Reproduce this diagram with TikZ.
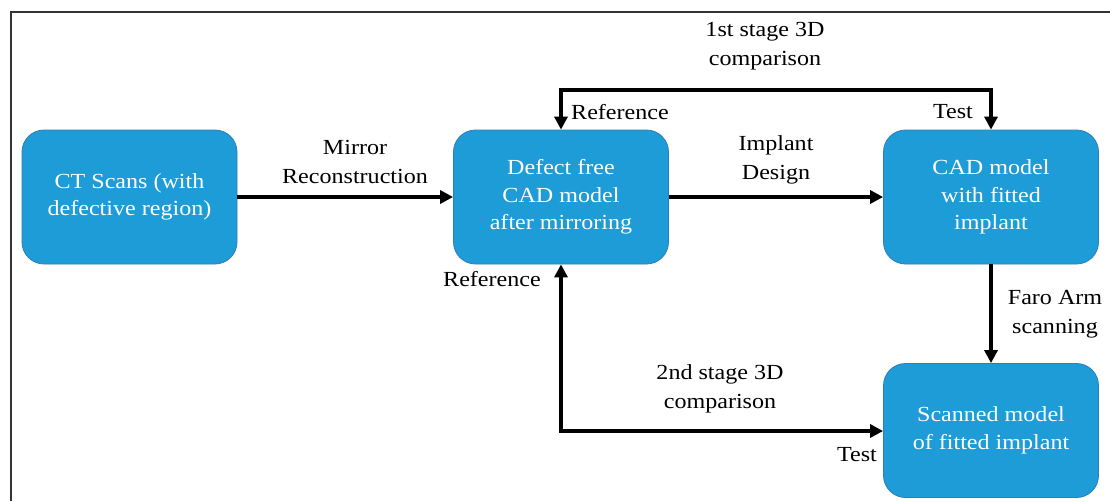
\documentclass[tikz,border=0pt]{standalone}
\usepackage{fontspec}
\setmainfont{Liberation Serif}[FakeStretch=1.12]
\usetikzlibrary{arrows.meta}
\definecolor{boxblue}{HTML}{1E9CD8}
\definecolor{boxedge}{HTML}{2B7FB8}
\tikzset{
  blk/.style={draw=boxedge, line width=0.8pt, fill=boxblue, rounded corners=22pt,
    minimum width=215pt, minimum height=134pt, text=white, align=center,
    font=\fontsize{21.5}{27.5}\selectfont, inner sep=0pt},
  lbl/.style={align=center, font=\fontsize{21.5}{28.5}\selectfont, inner sep=0pt, text=black},
  conn/.style={line width=3.2pt, -{Triangle[length=13pt,width=13pt]}},
  conn2/.style={line width=3.2pt, {Triangle[length=13pt,width=13pt]}-{Triangle[length=13pt,width=13pt]}}
}
\begin{document}
\begin{tikzpicture}[x=1pt,y=-1pt]
\useasboundingbox (0,0) rectangle (1110,501);
\fill[white] (0,0) rectangle (1110,501);
\draw[line width=1.8pt, black!80] (1110,12) -- (11,12) -- (11,501);
\node[blk] (a) at (129.5,197) {CT Scans (with\\defective region)};
\node[blk] (b) at (561,197) {Defect free\\CAD model\\after mirroring};
\node[blk] (c) at (991,197) {CAD model\\with fitted\\implant};
\node[blk] (d) at (991,430.5) {Scanned model\\of fitted implant};
\coordinate (top) at (561,90);
\coordinate (bot) at (561,431);
\draw[conn] (a) -- (b);
\draw[conn] (b) -- (c);
\draw[conn] (c) -- (d);
\draw[conn2] (b.north) -- (top) -| (c.north);
\draw[conn2] (b.south) -- (bot) -- (d.west |- bot);
\node[lbl] (l1) at (355,162) {Mirror\\Reconstruction};
\node[lbl] (l2) at (776,160) {Implant\\Design};
\node[lbl] (l3) at (765,46) {1st stage 3D\\comparison};
\node[lbl, anchor=west] (l4) at (571,112) {Reference};
\node[lbl] (l5) at (953,112) {Test};
\node[lbl] (l6) at (1055,314) {Faro Arm\\scanning};
\node[lbl] (l7) at (492,279) {Reference};
\node[lbl] (l8) at (720,389) {2nd stage 3D\\comparison};
\node[lbl] (l9) at (857,455) {Test};
\end{tikzpicture}
\end{document}
